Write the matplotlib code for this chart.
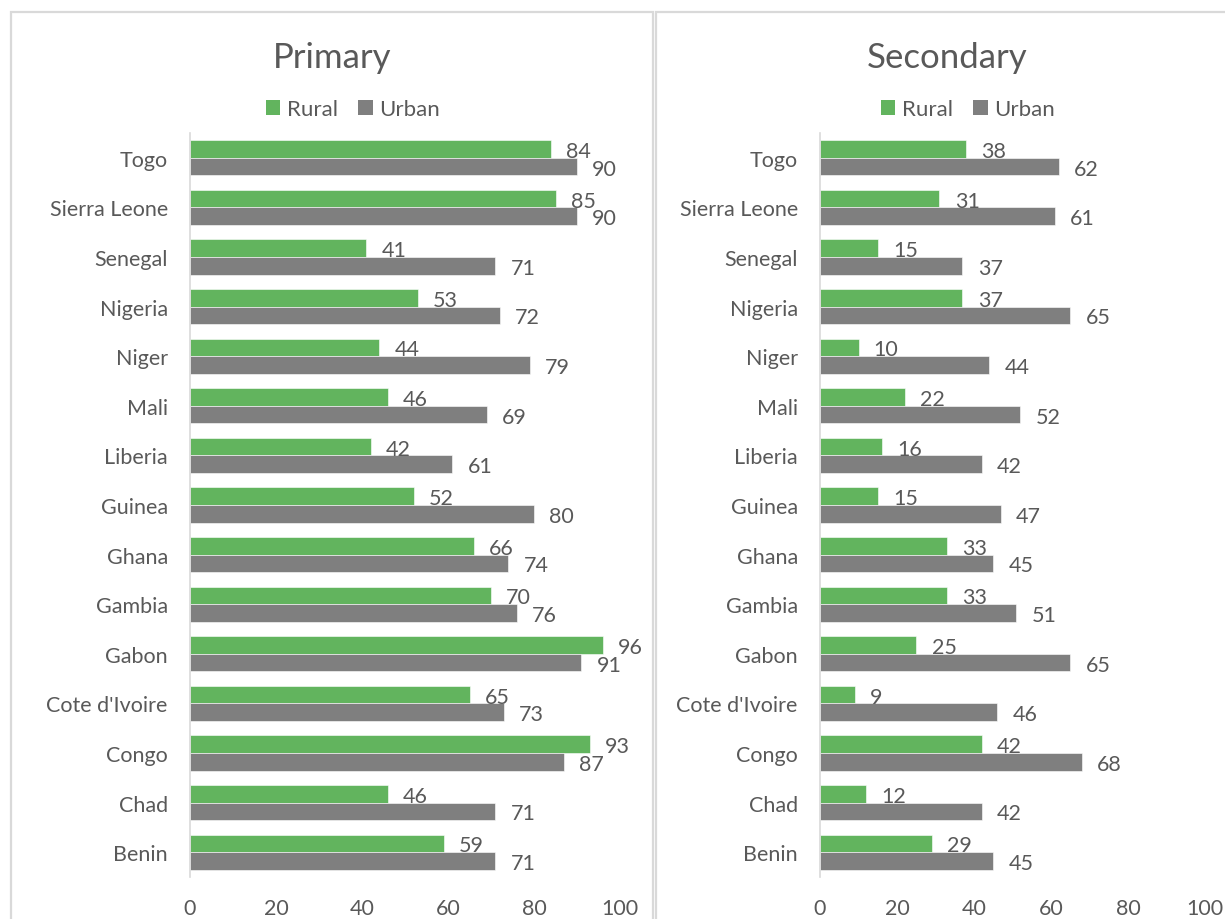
import matplotlib
matplotlib.use("Agg")
import matplotlib.pyplot as plt
from matplotlib.patches import Rectangle, Patch

countries = ["Benin", "Chad", "Congo", "Cote d'Ivoire", "Gabon", "Gambia", "Ghana",
             "Guinea", "Liberia", "Mali", "Niger", "Nigeria", "Senegal",
             "Sierra Leone", "Togo"]
primary_rural = [59, 46, 93, 65, 96, 70, 66, 52, 42, 46, 44, 53, 41, 85, 84]
primary_urban = [71, 71, 87, 73, 91, 76, 74, 80, 61, 69, 79, 72, 71, 90, 90]
secondary_rural = [29, 12, 42, 9, 25, 33, 33, 15, 16, 22, 10, 37, 15, 31, 38]
secondary_urban = [45, 42, 68, 46, 65, 51, 45, 47, 42, 52, 44, 65, 37, 61, 62]
x_ticks = [0, 20, 40, 60, 80, 100]

GREEN = "#62B45E"
GRAY = "#7F7F7F"
TEXT = "#595959"
BORDER = "#D9D9D9"
FONT = "Lato"
FS = 15.5

W, H = 1225, 920
fig = plt.figure(figsize=(W / 100, H / 100), dpi=100)
fig.patch.set_facecolor("white")


def fx(px):
    return px / W


def fy(py):
    return 1 - py / H


# panel frames
for x0, x1 in [(11, 653), (656, 1240)]:
    fig.patches.append(Rectangle((fx(x0), fy(940)), fx(x1 - x0), (940 - 13) / H,
                                 transform=fig.transFigure, fill=False,
                                 edgecolor=BORDER, linewidth=1.6, zorder=0))


def panel(left, right, title, title_x, legend_x, rural, urban):
    top, bottom = 134, 878
    ax = fig.add_axes([fx(left), fy(bottom), fx(right - left), (bottom - top) / H])
    n = len(countries)
    pos = list(range(n))
    h = 0.355
    ax.barh([p + h / 2 for p in pos], rural, height=h, color=GREEN,
            edgecolor="white", linewidth=0.4)
    ax.barh([p - h / 2 for p in pos], urban, height=h, color=GRAY,
            edgecolor="white", linewidth=0.4)
    for p, r, u in zip(pos, rural, urban):
        ax.annotate(f"{r}", (r, p + h / 2), xytext=(11, -1.5), textcoords="offset points",
                    ha="left", va="center", fontsize=FS, color=TEXT, family=FONT)
        ax.annotate(f"{u}", (u, p - h / 2), xytext=(11, -1.5), textcoords="offset points",
                    ha="left", va="center", fontsize=FS, color=TEXT, family=FONT)
    ax.set_xlim(0, 100)
    ax.set_ylim(-0.5, n - 0.5)
    ax.set_yticks(pos)
    ax.set_yticklabels(countries, fontsize=FS, color=TEXT, family=FONT)
    ax.set_xticks(x_ticks)
    ax.set_xticklabels([str(t) for t in x_ticks], fontsize=FS, color=TEXT, family=FONT)
    ax.tick_params(axis="y", length=0, pad=16)
    ax.tick_params(axis="x", length=0, pad=15)
    for s in ["top", "right", "bottom"]:
        ax.spines[s].set_visible(False)
    ax.spines["left"].set_color(BORDER)
    ax.spines["left"].set_linewidth(1.2)
    fig.text(fx(title_x), fy(58), title, ha="center", va="center",
             fontsize=25, color=TEXT, family=FONT)
    handles = [Patch(facecolor=GREEN, label="Rural"), Patch(facecolor=GRAY, label="Urban")]
    leg = fig.legend(handles=handles, loc="center", ncol=2,
                     bbox_to_anchor=(fx(legend_x), fy(110)), frameon=False,
                     prop={"family": FONT, "size": 16}, handlelength=0.65,
                     handleheight=0.65, handletextpad=0.3, columnspacing=0.9,
                     borderpad=0)
    for t in leg.get_texts():
        t.set_color(TEXT)
    return ax


panel(190, 620, "Primary", 332, 353, primary_rural, primary_urban)
panel(820, 1205, "Secondary", 947, 968, secondary_rural, secondary_urban)

fig.savefig("out.png", dpi=100, facecolor="white")
